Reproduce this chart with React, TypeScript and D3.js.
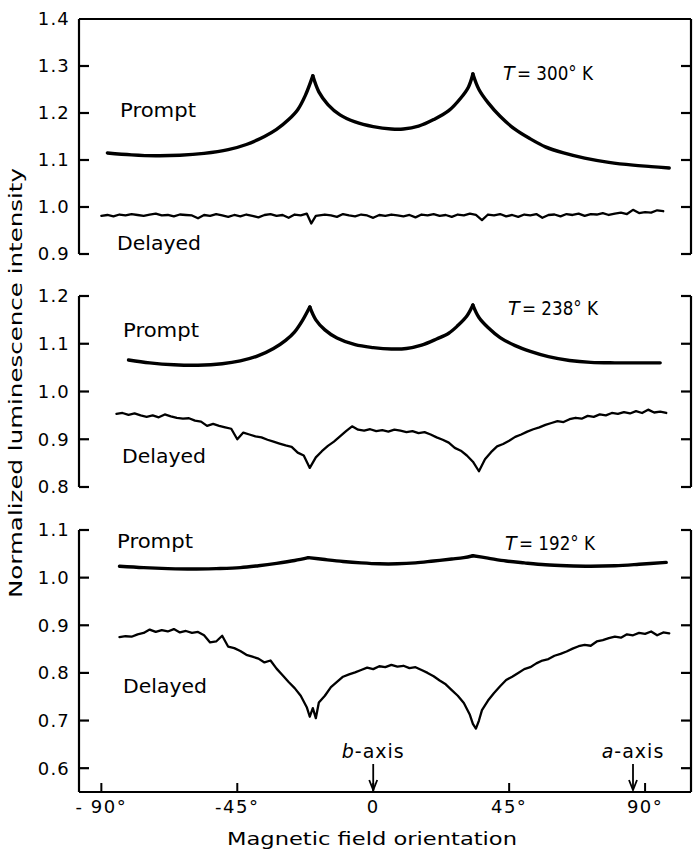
import React from "react";
import * as d3 from "d3";

const W = 694;
const H = 852;

// ---------- x axis ----------
const xTicks = [-90, -45, 0, 45, 90];
const xTickLabels = ["- 90°", "-45°", "0", "45°", "90°"];
const axisMarkers = [
  { label: "b-axis", italic: "b", deg: 0 },
  { label: "a-axis", italic: "a", deg: 86 },
];

// ---------- T = 300 K ----------
const prompt300: [number, number][] = [
  [-88, 1.115], [-80, 1.111], [-72, 1.109], [-64, 1.11], [-56, 1.114], [-48, 1.122],
  [-42, 1.133], [-36, 1.15], [-32, 1.165], [-28, 1.186], [-25, 1.207], [-22.5, 1.237],
  [-20, 1.279], [-18, 1.245], [-15, 1.218], [-11, 1.196], [-6, 1.181], [0, 1.171],
  [6, 1.166], [10, 1.166], [15, 1.172], [20, 1.186], [25, 1.205], [29, 1.232],
  [31.5, 1.255], [33, 1.283], [35, 1.25], [38, 1.222], [42, 1.193], [47, 1.165],
  [52, 1.145], [57, 1.128], [63, 1.115], [70, 1.104], [78, 1.095], [86, 1.089],
  [92, 1.086], [98, 1.083],
];
const delayed300: [number, number][] = [
  [-90, 0.981], [-88, 0.983], [-86, 0.98], [-84, 0.984], [-82, 0.982], [-80, 0.985],
  [-78, 0.983], [-76, 0.981], [-74, 0.984], [-72, 0.986], [-70, 0.982], [-68, 0.983],
  [-66, 0.98], [-64, 0.984], [-62, 0.983], [-60, 0.982], [-58, 0.976], [-56, 0.983],
  [-54, 0.981], [-52, 0.985], [-50, 0.982], [-48, 0.979], [-46, 0.983], [-44, 0.98],
  [-42, 0.984], [-40, 0.981], [-38, 0.978], [-36, 0.983], [-34, 0.985], [-32, 0.981],
  [-30, 0.983], [-28, 0.977], [-26, 0.984], [-24, 0.982], [-22, 0.986], [-20.5, 0.965],
  [-19, 0.981], [-16, 0.984], [-14, 0.982], [-12, 0.979], [-10, 0.985], [-8, 0.982],
  [-6, 0.98], [-4, 0.984], [-2, 0.982], [0, 0.977], [2, 0.983], [4, 0.981],
  [6, 0.984], [8, 0.982], [10, 0.98], [12, 0.983], [14, 0.978], [16, 0.984],
  [18, 0.982], [20, 0.985], [22, 0.981], [24, 0.983], [26, 0.979], [28, 0.984],
  [30, 0.982], [32, 0.986], [34, 0.983], [36, 0.972], [38, 0.984], [40, 0.982],
  [42, 0.985], [44, 0.98], [46, 0.983], [48, 0.979], [50, 0.984], [52, 0.982],
  [54, 0.985], [56, 0.977], [58, 0.983], [60, 0.984], [62, 0.98], [64, 0.985],
  [66, 0.983], [68, 0.986], [70, 0.981], [72, 0.985], [74, 0.984], [76, 0.987],
  [78, 0.983], [80, 0.986], [82, 0.988], [84, 0.985], [86, 0.994], [88, 0.987],
  [90, 0.989], [92, 0.988], [94, 0.993], [96, 0.991],
];

// ---------- T = 238 K ----------
const prompt238: [number, number][] = [
  [-81, 1.066], [-74, 1.06], [-66, 1.056], [-58, 1.055], [-50, 1.058], [-44, 1.064],
  [-38, 1.075], [-33, 1.09], [-29, 1.107], [-26, 1.125], [-23.5, 1.148], [-21, 1.177],
  [-19, 1.15], [-16, 1.129], [-12, 1.112], [-6, 1.098], [0, 1.092], [6, 1.089],
  [11, 1.09], [16, 1.097], [21, 1.11], [25, 1.122], [28, 1.138], [31, 1.158],
  [33, 1.181], [35, 1.155], [38, 1.134], [42, 1.113], [47, 1.096], [52, 1.084],
  [58, 1.073], [65, 1.065], [72, 1.061], [80, 1.06], [88, 1.06], [95, 1.06],
];
const delayed238: [number, number][] = [
  [-85, 0.953], [-83, 0.955], [-81, 0.951], [-79, 0.954], [-77, 0.95], [-75, 0.947],
  [-73, 0.95], [-71, 0.946], [-69, 0.952], [-67, 0.948], [-65, 0.945], [-63, 0.943],
  [-61, 0.944], [-59, 0.939], [-57, 0.937], [-55, 0.928], [-53, 0.932], [-51, 0.928],
  [-49, 0.925], [-47, 0.922], [-45, 0.9], [-43, 0.914], [-41, 0.91], [-39, 0.906],
  [-37, 0.904], [-35, 0.899], [-33, 0.895], [-31, 0.891], [-29, 0.887], [-27, 0.884],
  [-25, 0.872], [-23, 0.866], [-21, 0.84], [-19, 0.862], [-17, 0.875], [-15, 0.886],
  [-13, 0.895], [-11, 0.906], [-9, 0.917], [-7, 0.927], [-5, 0.92], [-3, 0.918],
  [-1, 0.921], [1, 0.917], [3, 0.919], [5, 0.916], [7, 0.92], [9, 0.918],
  [11, 0.915], [13, 0.917], [15, 0.913], [17, 0.915], [19, 0.91], [21, 0.904],
  [23, 0.899], [25, 0.893], [27, 0.882], [29, 0.876], [31, 0.866], [33, 0.853],
  [35, 0.833], [37, 0.858], [39, 0.873], [41, 0.885], [43, 0.89], [45, 0.897],
  [47, 0.905], [49, 0.91], [51, 0.916], [53, 0.921], [55, 0.925], [57, 0.93],
  [59, 0.934], [61, 0.938], [63, 0.936], [65, 0.942], [67, 0.945], [69, 0.943],
  [71, 0.949], [73, 0.947], [75, 0.952], [77, 0.95], [79, 0.955], [81, 0.953],
  [83, 0.957], [85, 0.954], [87, 0.959], [89, 0.955], [91, 0.962], [93, 0.956],
  [95, 0.958], [97, 0.955],
];

// ---------- T = 192 K ----------
const prompt192: [number, number][] = [
  [-84, 1.024], [-76, 1.021], [-68, 1.019], [-60, 1.018], [-52, 1.019], [-44, 1.021],
  [-38, 1.025], [-32, 1.03], [-26, 1.036], [-21.5, 1.042], [-16, 1.038], [-10, 1.034],
  [-4, 1.031], [2, 1.029], [8, 1.029], [14, 1.031], [20, 1.035], [26, 1.039],
  [30, 1.042], [33, 1.046], [38, 1.041], [44, 1.035], [50, 1.031], [57, 1.027],
  [64, 1.025], [72, 1.024], [80, 1.025], [88, 1.028], [97, 1.032],
];
const delayed192: [number, number][] = [
  [-84, 0.875], [-82, 0.877], [-80, 0.876], [-78, 0.881], [-76, 0.884], [-74, 0.891],
  [-72, 0.886], [-70, 0.89], [-68, 0.887], [-66, 0.892], [-64, 0.885], [-62, 0.888],
  [-60, 0.884], [-58, 0.886], [-56, 0.879], [-54, 0.864], [-52, 0.866], [-50, 0.878],
  [-48, 0.855], [-46, 0.852], [-44, 0.846], [-42, 0.838], [-40, 0.834], [-38, 0.83],
  [-36, 0.822], [-34, 0.826], [-32, 0.809], [-30, 0.795], [-28, 0.781], [-26, 0.768],
  [-24, 0.752], [-22, 0.728], [-21, 0.708], [-20, 0.726], [-19, 0.705], [-18, 0.738],
  [-16, 0.752], [-14, 0.77], [-12, 0.781], [-10, 0.792], [-8, 0.797], [-6, 0.801],
  [-4, 0.806], [-2, 0.811], [0, 0.808], [2, 0.814], [4, 0.812], [6, 0.817],
  [8, 0.813], [10, 0.815], [12, 0.81], [14, 0.812], [16, 0.806], [18, 0.8],
  [20, 0.793], [22, 0.784], [24, 0.776], [26, 0.764], [28, 0.752], [30, 0.737],
  [32, 0.712], [33, 0.693], [34, 0.683], [35, 0.7], [36, 0.722], [38, 0.742],
  [40, 0.758], [42, 0.772], [44, 0.785], [46, 0.792], [48, 0.8], [50, 0.808],
  [52, 0.812], [54, 0.82], [56, 0.826], [58, 0.829], [60, 0.836], [62, 0.84],
  [64, 0.845], [66, 0.851], [68, 0.856], [70, 0.859], [72, 0.857], [74, 0.866],
  [76, 0.869], [78, 0.873], [80, 0.876], [82, 0.874], [84, 0.881], [86, 0.879],
  [88, 0.884], [90, 0.882], [92, 0.887], [94, 0.879], [96, 0.885], [98, 0.883],
];

// ---------- y tick values ----------
const yTicks300 = [0.9, 1.0, 1.1, 1.2, 1.3, 1.4];
const yTicks238 = [0.8, 0.9, 1.0, 1.1, 1.2];
const yTicks192 = [0.6, 0.7, 0.8, 0.9, 1.0, 1.1];

const temps = ["300", "238", "192"];

// layout (pixels)
const X0 = 79;
const X1 = 691;
const panels = [
  {
    temp: temps[0], prompt: prompt300, delayed: delayed300, cusps: [-20, 33],
    domain: [0.9, 1.4], range: [254, 19], ticks: yTicks300,
    topBorder: true, xAxis: false,
    promptLbl: { x: 120, y: 117 }, delayedLbl: { x: 117, y: 250 }, tLbl: { x: 503, y: 80 },
  },
  {
    temp: temps[1], prompt: prompt238, delayed: delayed238, cusps: [-21, 33],
    domain: [0.8, 1.2], range: [487, 296], ticks: yTicks238,
    topBorder: false, xAxis: false,
    promptLbl: { x: 123, y: 337 }, delayedLbl: { x: 122, y: 463 }, tLbl: { x: 508, y: 315 },
  },
  {
    temp: temps[2], prompt: prompt192, delayed: delayed192, cusps: [-21.5, 33],
    domain: [0.55, 1.1], range: [792, 530], ticks: yTicks192,
    topBorder: false, xAxis: true,
    promptLbl: { x: 117, y: 548 }, delayedLbl: { x: 123, y: 693 }, tLbl: { x: 505, y: 550 },
  },
];

const FONT = "DejaVu Sans, sans-serif";

export default function App() {
  const x = d3.scaleLinear().domain([-97.4, 105.2]).range([X0, X1]);
  const fmt = d3.format(".1f");
  const TL = 10;

  return (
    <svg width={W} height={H} style={{ display: "block", position: "absolute", left: 0, top: 0, background: "#fff" }}
      fontFamily={FONT}>
      <rect x={0} y={0} width={W} height={H} fill="#fff" />
      {panels.map((p, pi) => {
        const y = d3.scaleLinear().domain(p.domain).range(p.range);
        const yTop = p.range[1];
        const yBot = p.range[0];
        const lineGen = d3.line<[number, number]>().x((d) => x(d[0])).y((d) => y(d[1]));
        const smooth = d3.line<[number, number]>().x((d) => x(d[0])).y((d) => y(d[1])).curve(d3.curveCatmullRom.alpha(0.5));
        const segs: [number, number][][] = [];
        let cur: [number, number][] = [];
        p.prompt.forEach((d) => {
          cur.push(d);
          if (p.cusps.includes(d[0])) {
            segs.push(cur);
            cur = [d];
          }
        });
        segs.push(cur);
        const inner = p.ticks.filter((t) => Math.abs(y(t) - yTop) > 1 && Math.abs(y(t) - yBot) > 1 || (p.xAxis && Math.abs(y(t) - yTop) > 1));
        return (
          <g key={pi}>
            {[X0, X1].map((ax, si) => {
              const dir = si === 0 ? 1 : -1;
              return (
                <g key={si} stroke="#000" strokeWidth={2.2} fill="none">
                  <line x1={ax} x2={ax} y1={yTop} y2={yBot} />
                  {!p.topBorder && <line x1={ax} x2={ax + dir * TL} y1={yTop} y2={yTop} />}
                  {!p.xAxis && <line x1={ax} x2={ax + dir * TL} y1={yBot} y2={yBot} />}
                  {inner.map((t) => (
                    <line key={t} x1={ax} x2={ax + dir * TL} y1={y(t)} y2={y(t)} />
                  ))}
                </g>
              );
            })}
            {p.topBorder && <line x1={X0} x2={X1} y1={yTop} y2={yTop} stroke="#000" strokeWidth={2.2} />}
            {p.ticks.map((t) => (
              <text key={t} x={70} y={y(t)} dy="0.36em" textAnchor="end" fontSize={18} letterSpacing={1.2}>
                {fmt(t)}
              </text>
            ))}
            {segs.map((s, i) => (
              <path key={i} d={smooth(s) || ""} fill="none" stroke="#000" strokeWidth={3.4} strokeLinejoin="round" strokeLinecap="round" />
            ))}
            <path d={lineGen(p.delayed) || ""} fill="none" stroke="#000" strokeWidth={2.3} strokeLinejoin="round" strokeLinecap="round" />
            <text x={p.promptLbl.x} y={p.promptLbl.y} fontSize={19} textLength={76} lengthAdjust="spacingAndGlyphs">Prompt</text>
            <text x={p.delayedLbl.x} y={p.delayedLbl.y} fontSize={19} textLength={84} lengthAdjust="spacingAndGlyphs">Delayed</text>
            <text x={p.tLbl.x} y={p.tLbl.y} fontSize={19} fontStyle="italic">T</text>
            <text x={p.tLbl.x + 14} y={p.tLbl.y} fontSize={19} textLength={76} lengthAdjust="spacingAndGlyphs">
              {`= ${p.temp}° K`}
            </text>
            {p.xAxis && (
              <g>
                <line x1={X0} x2={X1} y1={yBot} y2={yBot} stroke="#000" strokeWidth={2.2} />
                {xTicks.map((t, i) => (
                  <g key={t}>
                    <line x1={x(t)} x2={x(t)} y1={yBot} y2={yBot - 9} stroke="#000" strokeWidth={2} />
                    <text x={x(t)} y={yBot + 21} textAnchor="middle" fontSize={18} letterSpacing={1.5}>
                      {xTickLabels[i]}
                    </text>
                  </g>
                ))}
                {axisMarkers.map((m) => (
                  <g key={m.label}>
                    <line x1={x(m.deg)} x2={x(m.deg)} y1={yBot - 28} y2={yBot - 2} stroke="#000" strokeWidth={1.8} />
                    <path d={`M${x(m.deg) - 4},${yBot - 12} L${x(m.deg)},${yBot - 2} L${x(m.deg) + 4},${yBot - 12}`} fill="none" stroke="#000" strokeWidth={1.8} />
                    <text x={x(m.deg)} y={yBot - 34} textAnchor="middle" fontSize={19} letterSpacing={1}>
                      <tspan fontStyle="italic">{m.italic}</tspan>
                      <tspan>{m.label.slice(1)}</tspan>
                    </text>
                  </g>
                ))}
              </g>
            )}
          </g>
        );
      })}
      <text x={372} y={845} textAnchor="middle" fontSize={18} textLength={290} lengthAdjust="spacingAndGlyphs">
        Magnetic field orientation
      </text>
      <text transform="translate(22,383) rotate(-90)" textAnchor="middle" fontSize={18} textLength={430} lengthAdjust="spacingAndGlyphs">
        Normalized luminescence intensity
      </text>
    </svg>
  );
}
